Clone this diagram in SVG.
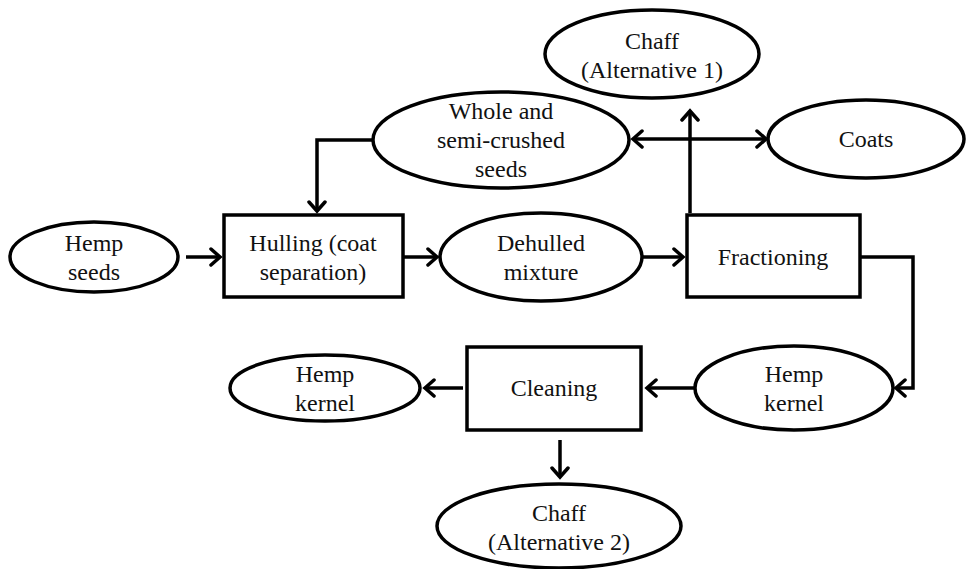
<svg xmlns="http://www.w3.org/2000/svg" width="971" height="569" viewBox="0 0 971 569">
<style>
.n{fill:#fff;stroke:#000;stroke-width:3.5}
.t{font-family:"Liberation Serif","Times New Roman",serif;font-size:24px;fill:#111;text-anchor:middle}
.c{fill:none;stroke:#000;stroke-width:3.5}
</style>
<defs>
<marker id="ah" markerUnits="userSpaceOnUse" markerWidth="20" markerHeight="20" refX="13" refY="10" orient="auto-start-reverse" viewBox="0 0 20 20">
<path d="M4,2 L13,10 L4,18" fill="none" stroke="#000" stroke-width="3.5" stroke-linecap="round" stroke-linejoin="miter"/>
</marker>
</defs>
<rect width="971" height="569" fill="#fff"/>
<g id="connectors">
<path class="c" d="M186,257 H220" marker-end="url(#ah)"/>
<path class="c" d="M404,257 H437" marker-end="url(#ah)"/>
<path class="c" d="M643,257 H683" marker-end="url(#ah)"/>
<path class="c" d="M860,257 H913 V388 H896" marker-end="url(#ah)"/>
<path class="c" d="M695,388 H647" marker-end="url(#ah)"/>
<path class="c" d="M463,388 H425" marker-end="url(#ah)"/>
<path class="c" d="M560,440 V477" marker-end="url(#ah)"/>
<path class="c" d="M373,140 H317 V211" marker-end="url(#ah)"/>
<path class="c" d="M633,139 H766" marker-start="url(#ah)" marker-end="url(#ah)"/>
<path class="c" d="M690,213 V111" marker-end="url(#ah)"/>
</g>
<g id="hemp-seeds"><ellipse class="n" cx="94" cy="257" rx="84" ry="35"/><text class="t" x="94" y="251">Hemp</text><text class="t" x="94" y="280">seeds</text></g>
<g id="hulling"><rect class="n" x="224" y="215" width="179" height="82"/><text class="t" x="313" y="251">Hulling (coat</text><text class="t" x="313" y="280">separation)</text></g>
<g id="dehulled"><ellipse class="n" cx="541" cy="257" rx="101" ry="44"/><text class="t" x="541" y="251">Dehulled</text><text class="t" x="541" y="280">mixture</text></g>
<g id="fractioning"><rect class="n" x="687" y="215" width="173" height="82"/><text class="t" x="773" y="265">Fractioning</text></g>
<g id="whole"><ellipse class="n" cx="501" cy="140" rx="128" ry="48"/><text class="t" x="501" y="119">Whole and</text><text class="t" x="501" y="148">semi-crushed</text><text class="t" x="501" y="177">seeds</text></g>
<g id="chaff1"><ellipse class="n" cx="652" cy="54" rx="107" ry="44"/><text class="t" x="652" y="49">Chaff</text><text class="t" x="652" y="78">(Alternative 1)</text></g>
<g id="coats"><ellipse class="n" cx="866" cy="139" rx="98" ry="39"/><text class="t" x="866" y="147">Coats</text></g>
<g id="hemp-kernel-1"><ellipse class="n" cx="794" cy="388" rx="99" ry="42"/><text class="t" x="794" y="382">Hemp</text><text class="t" x="794" y="411">kernel</text></g>
<g id="cleaning"><rect class="n" x="467" y="347" width="174" height="83"/><text class="t" x="554" y="396">Cleaning</text></g>
<g id="hemp-kernel-2"><ellipse class="n" cx="325" cy="388" rx="95" ry="33"/><text class="t" x="325" y="382">Hemp</text><text class="t" x="325" y="411">kernel</text></g>
<g id="chaff2"><ellipse class="n" cx="559" cy="526" rx="122" ry="42"/><text class="t" x="559" y="521">Chaff</text><text class="t" x="559" y="550">(Alternative 2)</text></g>
</svg>
